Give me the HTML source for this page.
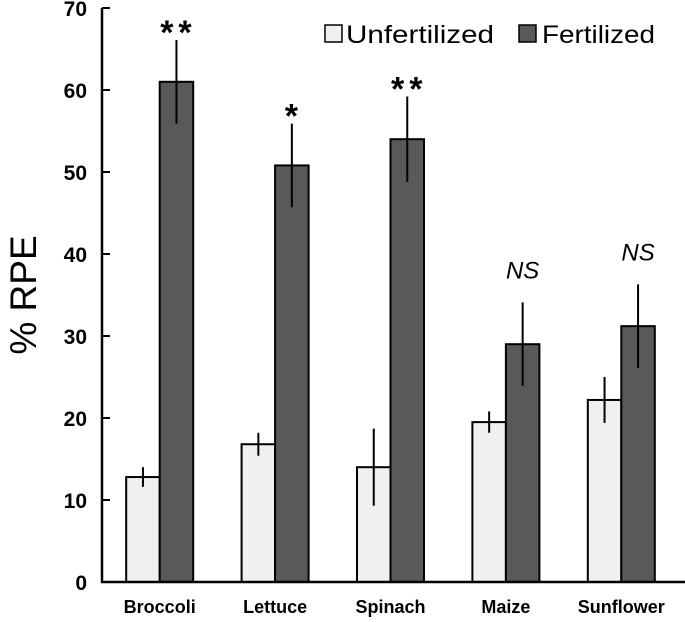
<!DOCTYPE html>
<html><head><meta charset="utf-8"><style>
html,body{margin:0;padding:0;background:#fff;}
svg{display:block;font-family:"Liberation Sans",sans-serif;}
</style></head><body>
<svg id="chart" width="685" height="622" viewBox="0 0 685 622" xmlns="http://www.w3.org/2000/svg"></svg>
<script>
const categories = ["Broccoli","Lettuce","Spinach","Maize","Sunflower"];
const unfertilized = [12.8, 16.8, 14.0, 19.5, 22.2];
const unfertErr = [1.2, 1.4, 4.7, 1.3, 2.8];
const fertilized = [61.0, 50.8, 54.0, 29.0, 31.2];
const fertErr = [5.1, 5.1, 5.2, 5.1, 5.1];
const significance = ["**","*","**","NS","NS"];
const yTicks = [0,10,20,30,40,50,60,70];

const NS = "http://www.w3.org/2000/svg";
const svg = document.getElementById("chart");
const X0 = 102, BAND = 115.4, Y0 = 582, YPX = 8.2, BW = 33.5;
const y = v => Y0 - v * YPX;
const xc = i => X0 + BAND * (i + 0.5);
function mk(tag, attrs, parent) {
  const e = document.createElementNS(NS, tag);
  for (const k in attrs) e.setAttribute(k, attrs[k]);
  (parent || svg).appendChild(e);
  return e;
}
yTicks.forEach(t => {
  const tk = mk("line", {x1: X0, x2: X0 + 8, y1: y(t), y2: y(t), stroke: "#000", "stroke-width": 2});
  
  
  const lb = mk("text", {x: 87, y: y(t) + 8, "text-anchor": "end", "font-size": 21, "font-weight": "bold"});
  lb.textContent = t;
  
  
});
categories.forEach((c, i) => {
  const cx = xc(i);
  const b1 = mk("rect", {x: cx - BW, y: y(unfertilized[i]), width: BW, height: unfertilized[i] * YPX, fill: "#f0f0f0", stroke: "#000", "stroke-width": 2});
  
  
  const b2 = mk("rect", {x: cx, y: y(fertilized[i]), width: BW, height: fertilized[i] * YPX, fill: "#595959", stroke: "#000", "stroke-width": 2});
  
  
  const e1 = mk("line", {x1: cx - BW / 2, x2: cx - BW / 2, y1: y(unfertilized[i] - unfertErr[i]), y2: y(unfertilized[i] + unfertErr[i]), stroke: "#000", "stroke-width": 2});
  
  
  const e2 = mk("line", {x1: cx + BW / 2, x2: cx + BW / 2, y1: y(fertilized[i] - fertErr[i]), y2: y(fertilized[i] + fertErr[i]), stroke: "#000", "stroke-width": 2});
  
  
  const s = significance[i];
  const isNS = s === "NS";
  const st = mk("text", {x: cx + BW / 2 + (isNS ? 0 : 2), y: y(fertilized[i] + fertErr[i]) + (isNS ? -24 : 4), "text-anchor": "middle", "font-size": isNS ? 24 : 34, "font-weight": isNS ? "normal" : "bold", "font-style": isNS ? "italic" : "normal", "letter-spacing": isNS ? 0 : 5});
  st.textContent = s;
  
  
  const cl = mk("text", {x: cx, y: 613, "text-anchor": "middle", "font-size": 18, "font-weight": "bold"});
  cl.textContent = c;
  
  
});
const ax = mk("path", {d: `M${X0},${y(70)} V${Y0} H685`, fill: "none", stroke: "#000", "stroke-width": 2.5});


const yt = mk("text", {x: 0, y: 0, transform: "translate(36,295) rotate(-90)", "text-anchor": "middle", "font-size": 37});
yt.textContent = "% RPE";


const lg = mk("g", {});


const r1 = mk("rect", {x: 325, y: 25, width: 17, height: 17, fill: "#f0f0f0", stroke: "#000", "stroke-width": 1.5}, lg);


const t1 = mk("text", {x: 346, y: 43, "font-size": 25, textLength: 148, lengthAdjust: "spacingAndGlyphs"}, lg);
t1.textContent = "Unfertilized";


const r2 = mk("rect", {x: 519, y: 25, width: 17, height: 17, fill: "#595959", stroke: "#000", "stroke-width": 1.5}, lg);


const t2 = mk("text", {x: 542, y: 43, "font-size": 25, textLength: 113, lengthAdjust: "spacingAndGlyphs"}, lg);
t2.textContent = "Fertilized";


</script>
</body></html>
